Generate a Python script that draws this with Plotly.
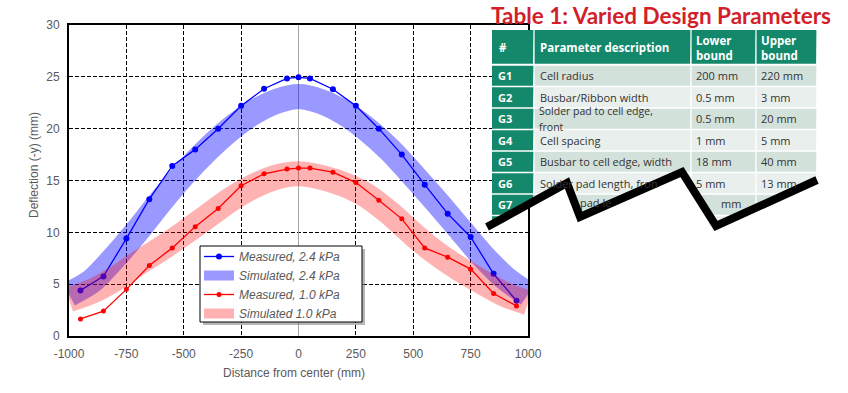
import numpy as np
import plotly.graph_objects as go

# ---------------- data ----------------
x_meas = [-950, -850, -750, -650, -550, -450, -350, -250, -150, -50, 0, 50, 150, 250, 350, 450, 550, 650, 750, 850, 950]
meas_24 = [4.4, 5.75, 9.4, 13.2, 16.4, 18.0, 20.0, 22.2, 23.85, 24.85, 24.95, 24.85, 23.8, 22.2, 20.0, 17.5, 14.6, 11.8, 9.55, 6.0, 3.4]
meas_10 = [1.65, 2.4, 4.5, 6.8, 8.5, 10.55, 12.3, 14.5, 15.65, 16.1, 16.2, 16.2, 15.8, 14.8, 13.1, 11.3, 8.5, 7.6, 6.45, 4.1, 2.9]

x_sim = [-1000, -900, -800, -700, -600, -500, -400, -300, -200, -100, 0, 100, 200, 300, 400, 500, 600, 700, 800, 900, 1000]
sim_24 = [4.0, 5.3, 7.6, 10.2, 13.0, 15.6, 17.9, 19.9, 21.5, 22.6, 23.1, 22.6, 21.5, 19.9, 17.9, 15.5, 13.0, 10.4, 7.8, 5.6, 4.0]
sim_10 = [3.5, 4.3, 5.5, 7.0, 8.4, 9.9, 11.5, 13.1, 14.4, 15.3, 15.65, 15.3, 14.6, 13.5, 11.8, 9.8, 8.0, 6.5, 5.2, 4.0, 3.2]

series_names = ["Measured, 2.4 kPa", "Simulated, 2.4 kPa", "Measured, 1.0 kPa", "Simulated 1.0 kPa"]

x_tickvals = [-1000, -750, -500, -250, 0, 250, 500, 750, 1000]
x_ticktext = ["-1000", "-750", "-500", "-250", "0", "250", "500", "750", "1000"]

table_title = "Table 1: Varied Design Parameters"
table_header = ["#", "Parameter description", "Lower<br>bound", "Upper<br>bound"]
row_ids = ["G1", "G2", "G3", "G4", "G5", "G6", "G7", "G8"]
row_desc = ["Cell radius", "Busbar/Ribbon width", "Solder pad to cell edge,|front", "Cell spacing",
            "Busbar to cell edge, width", "Solder pad length, fron", "", ""]
row_lower = ["200 mm", "0.5 mm", "0.5 mm", "1 mm", "18 mm", "5 mm", "", ""]
row_upper = ["220 mm", "3 mm", "20 mm", "5 mm", "40 mm", "13 mm", "", ""]

# ---------------- layout geometry ----------------
W, H = 848, 393
ML, MR, MT, MB = 69, 320, 25, 57
PW = W - ML - MR
PH = H - MT - MB


def px2x(px):
    return (px - ML) / PW


def py2y(py):
    return (H - MB - py) / PH


GRAY = "#595959"
FONT = "Liberation Sans, Arial, sans-serif"

fig = go.Figure()
fig.add_trace(go.Scatter(x=x_meas, y=meas_24, mode="lines+markers", name="<i>" + series_names[0] + "</i>",
                         line=dict(color="#0000ff", width=1.3), marker=dict(color="#0000ff", size=6)))
fig.add_trace(go.Scatter(x=x_sim, y=sim_24, mode="lines", name="<i>" + series_names[1] + "</i>",
                         line=dict(color="rgba(0,0,255,0.4)", width=25, shape="spline", smoothing=0.7)))
fig.add_trace(go.Scatter(x=x_meas, y=meas_10, mode="lines+markers", name="<i>" + series_names[2] + "</i>",
                         line=dict(color="#ff0000", width=1.3), marker=dict(color="#ff0000", size=5)))
fig.add_trace(go.Scatter(x=x_sim, y=sim_10, mode="lines", name="<i>" + series_names[3] + "</i>",
                         line=dict(color="rgba(255,0,0,0.3)", width=25, shape="spline", smoothing=0.7)))

axis_common = dict(showline=True, linecolor="black", linewidth=2, mirror=True,
                   gridcolor="black", griddash="4px,2px", gridwidth=1,
                   tickfont=dict(family=FONT, size=12, color=GRAY), ticks="")
fig.update_xaxes(range=[-1000, 1000], tickmode="array", tickvals=x_tickvals, ticktext=x_ticktext,
                 zeroline=True, zerolinecolor="#a6a6a6", zerolinewidth=1, ticklabelstandoff=6, **axis_common)
fig.update_yaxes(range=[0, 30], dtick=5, zeroline=False, ticklabelstandoff=5, **axis_common)

shapes = []
annotations = []

# axis titles
annotations.append(dict(x=px2x(294), y=py2y(382), xref="paper", yref="paper", text="Distance from center (mm)",
                        showarrow=False, font=dict(family=FONT, size=12, color=GRAY)))
annotations.append(dict(x=px2x(25), y=py2y(165), xref="paper", yref="paper", text="Deflection (-y) (mm)",
                        showarrow=False, textangle=-90, font=dict(family=FONT, size=12, color=GRAY)))

# legend box (shadow + white box)
LB = dict(x0=200, x1=362, y0=246, y1=322)
shapes.append(dict(type="rect", xref="paper", yref="paper", x0=px2x(LB["x0"] + 3), x1=px2x(LB["x1"] + 3),
                   y0=py2y(LB["y1"] + 3), y1=py2y(LB["y0"] + 3),
                   fillcolor="rgba(110,110,110,0.5)", line=dict(width=0), layer="above"))
shapes.append(dict(type="rect", xref="paper", yref="paper", x0=px2x(LB["x0"]), x1=px2x(LB["x1"]),
                   y0=py2y(LB["y1"]), y1=py2y(LB["y0"]),
                   fillcolor="white", line=dict(color="black", width=1), layer="above"))

# ---------------- table (clipped by zigzag) ----------------
zig_x = [487, 567, 580, 682, 716, 817]
zig_y = [227, 183, 217, 172, 226, 180]
col_x = [492, 534, 691, 756, 817]
head_y = [30, 65]
row_h = 21.5


def clipped_path(x0, x1, y0, y1):
    xs = np.arange(x0, x1 + 0.01, 0.5)
    fy = np.interp(xs, zig_x, zig_y)
    bot = np.clip(fy, y0, y1)
    if np.all(bot <= y0 + 0.01):
        return None
    pts = [(x0, y0), (x1, y0)] + list(zip(xs[::-1], bot[::-1]))
    return "M " + " L ".join(f"{px2x(a):.5f},{py2y(b):.5f}" for a, b in pts) + " Z"


def add_cell(x0, x1, y0, y1, color):
    p = clipped_path(x0, x1, y0, y1)
    if p:
        shapes.append(dict(type="path", xref="paper", yref="paper", path=p, fillcolor=color,
                           line=dict(width=0), layer="above"))


GREEN = "#13886a"
n_rows = len(row_ids)
table_bottom = head_y[1] + n_rows * row_h
add_cell(col_x[0], col_x[-1], head_y[0], table_bottom, "white")
for i in range(4):
    add_cell(col_x[i] + (0.6 if i else 0), col_x[i + 1] - 0.6, head_y[0], head_y[1] - 1.2, GREEN)
for r in range(n_rows):
    y0 = head_y[1] + r * row_h + 0.7
    y1 = head_y[1] + (r + 1) * row_h - 0.7
    shade = "#d3e1db" if r % 2 == 0 else "#e8efec"
    for i in range(4):
        add_cell(col_x[i] + (0.6 if i else 0), col_x[i + 1] - 0.6, y0, y1, GREEN if i == 0 else shade)

TFONT = "Open Sans, Lato, sans-serif"
annotations.append(dict(x=px2x(489), y=py2y(15), xref="paper", yref="paper", text="<b>" + table_title + "</b>",
                        showarrow=False, xanchor="left", yanchor="middle",
                        font=dict(family="Lato, sans-serif", size=22.5, color="#d21f2b")))
hx = [col_x[0] + 5, col_x[1] + 4, col_x[2] + 3, col_x[3] + 3]
for i, t in enumerate(table_header):
    annotations.append(dict(x=px2x(hx[i]), y=py2y((head_y[0] + head_y[1]) / 2), xref="paper", yref="paper",
                            text="<b>" + t + "</b>", showarrow=False, xanchor="left", yanchor="middle", align="left",
                            font=dict(family=TFONT, size=11.5, color="white")))
for r in range(n_rows):
    yc = head_y[1] + (r + 0.5) * row_h
    if r < 7:
        annotations.append(dict(x=px2x(col_x[0] + 4), y=py2y(yc), xref="paper", yref="paper",
                                text="<b>" + row_ids[r] + "</b>", showarrow=False, xanchor="left", yanchor="middle",
                                font=dict(family=TFONT, size=11, color="white")))
    d = row_desc[r]
    if "|" in d:
        a, b = d.split("|")
        annotations.append(dict(x=px2x(col_x[1] + 4), y=py2y(yc + 0.5), xref="paper", yref="paper", text=a,
                                showarrow=False, xanchor="left", yanchor="bottom", borderpad=0,
                                font=dict(family=TFONT, size=10.5, color="#333333")))
        annotations.append(dict(x=px2x(col_x[1] + 4), y=py2y(yc + 0.5), xref="paper", yref="paper", text=b,
                                showarrow=False, xanchor="left", yanchor="top", borderpad=0,
                                font=dict(family=TFONT, size=10.5, color="#333333")))
    elif d:
        annotations.append(dict(x=px2x(col_x[1] + 4), y=py2y(yc), xref="paper", yref="paper", text=d,
                                showarrow=False, xanchor="left", yanchor="middle",
                                font=dict(family=TFONT, size=11, color="#333333")))
    for ci, vals in ((2, row_lower), (3, row_upper)):
        if vals[r]:
            annotations.append(dict(x=px2x(col_x[ci] + 3), y=py2y(yc), xref="paper", yref="paper", text=vals[r],
                                    showarrow=False, xanchor="left", yanchor="middle",
                                    font=dict(family=TFONT, size=11, color="#333333")))
# partially visible fragments of row G7
annotations.append(dict(x=px2x(578), y=py2y(202), xref="paper", yref="paper", text="pad le", showarrow=False,
                        xanchor="left", yanchor="middle", font=dict(family=TFONT, size=11, color="#333333")))
annotations.append(dict(x=px2x(719), y=py2y(203), xref="paper", yref="paper", text="mm", showarrow=False,
                        xanchor="left", yanchor="middle", font=dict(family=TFONT, size=11, color="#333333")))

# zigzag
zpath = "M " + " L ".join(f"{px2x(a):.5f},{py2y(b):.5f}" for a, b in zip(zig_x, zig_y))
shapes.append(dict(type="path", xref="paper", yref="paper", path=zpath, line=dict(color="black", width=8),
                   layer="above"))

fig.update_layout(
    width=W, height=H, margin=dict(l=ML, r=MR, t=MT, b=MB),
    paper_bgcolor="white", plot_bgcolor="white",
    shapes=shapes, annotations=annotations,
    legend=dict(x=px2x(199), y=py2y(242), xanchor="left", yanchor="top", bgcolor="rgba(0,0,0,0)",
                borderwidth=0, tracegroupgap=0,
                font=dict(family=FONT, size=12, color=GRAY)),
    showlegend=True,
)
fig.write_html("out.html")
